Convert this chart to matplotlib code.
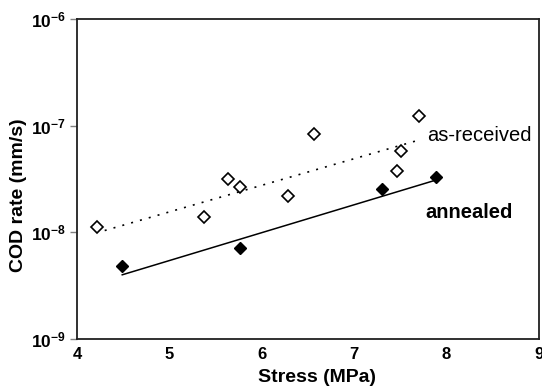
import numpy as np
import matplotlib
matplotlib.use('Agg')
import matplotlib.pyplot as plt

plt.rcParams['font.family'] = ['Liberation Sans', 'DejaVu Sans']
plt.rcParams['mathtext.fontset'] = 'custom'
plt.rcParams['mathtext.rm'] = 'Liberation Sans'
plt.rcParams['mathtext.bf'] = 'Liberation Sans:bold'

# as-received specimens (open diamonds)
stress_asrec = [4.22, 5.37, 5.63, 5.76, 6.28, 6.57, 7.46, 7.51, 7.70]
cod_asrec    = [1.13e-8, 1.39e-8, 3.18e-8, 2.68e-8, 2.21e-8, 8.4e-8, 3.78e-8, 5.83e-8, 1.23e-7]

# annealed specimens (filled diamonds)
stress_ann = [4.49, 5.76, 7.30, 7.89]
cod_ann    = [4.8e-9, 7.1e-9, 2.54e-8, 3.33e-8]

# trend lines (end points)
fit_x_asrec = [4.30, 7.67]
fit_y_asrec = [1.04e-8, 7.2e-8]
fit_x_ann   = [4.49, 7.89]
fit_y_ann   = [4.0e-9, 3.1e-8]

xticks = [4, 5, 6, 7, 8, 9]
yticks = [1e-9, 1e-8, 1e-7, 1e-6]
ytick_labels = [r'$\mathbf{10^{-9}}$', r'$\mathbf{10^{-8}}$', r'$\mathbf{10^{-7}}$', r'$\mathbf{10^{-6}}$']

fig = plt.figure(figsize=(5.42, 3.89), dpi=100)
ax = fig.add_axes([0.142, 0.1285, 0.8525, 0.8227])

ax.plot(fit_x_asrec, fit_y_asrec, color='black', lw=1.2, linestyle=(0, (1.2, 4.3)))
ax.plot(fit_x_ann, fit_y_ann, color='black', lw=1.1, linestyle='-')
ax.plot(stress_asrec, cod_asrec, 'D', ms=6.5, mfc='white', mec='black', mew=1.2)
ax.plot(stress_ann, cod_ann, 'D', ms=6.0, mfc='black', mec='black', mew=1.0)

ax.set_yscale('log')
ax.set_xlim(4, 9)
ax.set_ylim(1e-9, 1e-6)
ax.set_xticks(xticks)
ax.set_xticklabels([str(t) for t in xticks], fontsize=12, fontweight='bold')
ax.set_yticks(yticks)
ax.set_yticklabels(ytick_labels, fontsize=12.5)
ax.yaxis.set_minor_locator(matplotlib.ticker.NullLocator())
ax.tick_params(axis='x', length=0, pad=6)
ax.tick_params(axis='y', length=5, width=1, color='#808080', pad=3, direction='out')

for s in ax.spines.values():
    s.set_linewidth(1.3)
    s.set_color('#202020')

ax.text(0.758, 0.636, 'as-received', transform=ax.transAxes, fontsize=14.5, va='center', ha='left')
ax.text(0.755, 0.394, 'annealed', transform=ax.transAxes, fontsize=14.5, fontweight='bold', va='center', ha='left')

fig.text(317/542, 1-377/389, 'Stress (MPa)', fontsize=14, fontweight='bold', ha='center', va='center')
fig.text(19/542, 1-195/389, 'COD rate (mm/s)', fontsize=14, fontweight='bold', ha='center', va='center', rotation=90)

fig.savefig('out.png', dpi=100)
